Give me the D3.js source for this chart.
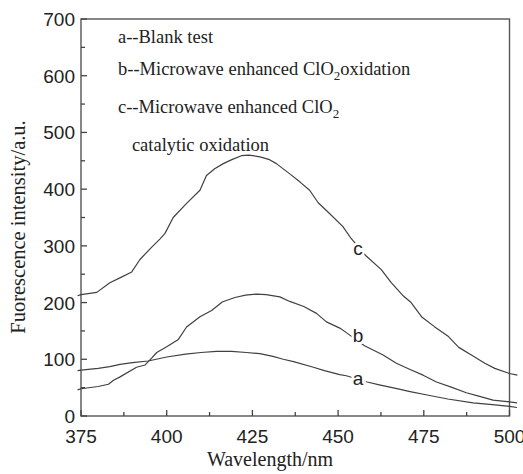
<!DOCTYPE html>
<html>
<head>
<meta charset="utf-8">
<script src="https://cdn.jsdelivr.net/npm/d3@7"></script>
<style>
  html, body { margin: 0; padding: 0; background: #fff; }
  svg { display: block; }
</style>
</head>
<body>
<svg id="chart" width="523" height="474"></svg>
<script>
// Fluorescence spectra of the three treatments
const waveA = [374, 375, 380, 383.4, 386.4, 390, 394.6, 400, 405.5, 410, 414.5, 418.9, 423.3, 427.2, 431, 434, 437, 442.8, 446, 450.5, 452.4, 458.5, 462, 466.5, 471, 476, 482, 489.4, 495, 500, 502.2];
const intA  = [80, 81, 84, 87, 91, 94, 97, 104, 109, 112, 114, 114, 112, 110, 105, 100, 96, 86, 80, 73, 71, 60, 55, 49, 43, 37, 30, 23, 20, 17, 15];

const waveB = [374, 375, 380, 383, 384.5, 386.4, 391.2, 393.7, 395.6, 397.1, 400, 403.4, 405.8, 409.7, 413.1, 416.2, 419.9, 423, 426.2, 429, 433, 435.9, 440, 443.7, 446.6, 450.5, 452.4, 457.7, 463, 467, 471, 474.8, 478.7, 483, 487.4, 491, 495.2, 500, 502.2];
const intB  = [46, 48, 52, 56, 63, 69, 86, 90, 102, 112, 122, 135, 157, 175, 186, 201, 209, 213, 215, 214, 210, 202, 193, 181, 166, 155, 147, 124, 108, 93, 82, 72, 60, 51, 41, 35, 28, 25, 23];

const waveC = [374, 375, 379.6, 383.4, 386.5, 389.8, 392.2, 395.5, 398, 399.5, 401.9, 405.8, 409.7, 411.6, 414, 416.5, 419, 421.8, 424, 427.2, 430, 432, 436.1, 439, 441.7, 444.2, 447.5, 451.4, 453.8, 458.2, 462.6, 465.5, 468.8, 471.3, 474.5, 478, 482.2, 485.2, 489, 492.8, 495.7, 500, 502.3];
const intC  = [212, 214, 218, 235, 244, 254, 276, 297, 312, 322, 350, 375, 398, 424, 436, 445, 452, 459, 460, 457, 452, 445, 426, 412, 398, 376, 357, 334, 313, 282, 258, 235, 213, 200, 174, 158, 140, 121, 107, 93, 84, 75, 72];

const curveLabels = ["a", "b", "c"];
const labelWave   = [455.8, 455.8, 455.8];
const labelValue  = [55, 131, 284];

const xTicks = [375, 400, 425, 450, 475, 500];
const yTicks = [0, 100, 200, 300, 400, 500, 600, 700];

const legendLines = [
  "a--Blank test",
  "b--Microwave enhanced ClO|2|oxidation",
  "c--Microwave enhanced ClO|2|",
  "   catalytic oxidation"
];

const svg = d3.select("#chart");
const m = { left: 81, right: 509.5, top: 19, bottom: 416 };

const x = d3.scaleLinear().domain([375, 500]).range([m.left, m.right]);
const y = d3.scaleLinear().domain([0, 700]).range([m.bottom, m.top]);

const sans = "'Liberation Sans', Arial, sans-serif";
const serif = "'Liberation Serif', 'Times New Roman', serif";

// frame
svg.append("rect")
  .attr("x", m.left).attr("y", m.top)
  .attr("width", m.right - m.left).attr("height", m.bottom - m.top)
  .attr("fill", "none").attr("stroke", "#555").attr("stroke-width", 1.4);

// bottom axis: inward ticks, minor every 12.5
const xMinor = d3.range(375, 500.1, 12.5);
svg.append("g").selectAll("line").data(xMinor).join("line")
  .attr("x1", d => x(d)).attr("x2", d => x(d))
  .attr("y1", m.bottom)
  .attr("y2", d => m.bottom - (xTicks.includes(d) ? 6 : 4))
  .attr("stroke", "#444").attr("stroke-width", 1.3);
svg.append("g").selectAll("text").data(xTicks).join("text")
  .attr("x", d => x(d)).attr("y", 443)
  .attr("text-anchor", "middle")
  .attr("font-family", sans).attr("font-size", 19).attr("fill", "#222")
  .text(d => d);

// left axis: inward ticks, minor every 50
const yMinor = d3.range(0, 700.1, 50);
svg.append("g").selectAll("line").data(yMinor).join("line")
  .attr("x1", m.left)
  .attr("x2", d => m.left + (yTicks.includes(d) ? 6 : 4))
  .attr("y1", d => y(d)).attr("y2", d => y(d))
  .attr("stroke", "#444").attr("stroke-width", 1.3);
svg.append("g").selectAll("text").data(yTicks).join("text")
  .attr("x", 75).attr("y", d => y(d) + 7)
  .attr("text-anchor", "end")
  .attr("font-family", sans).attr("font-size", 19).attr("fill", "#222")
  .text(d => d);

// axis titles
svg.append("text")
  .attr("x", 270).attr("y", 466)
  .attr("text-anchor", "middle")
  .attr("font-family", serif).attr("font-size", 20).attr("fill", "#222")
  .text("Wavelength/nm");
svg.append("text")
  .attr("transform", "translate(25,227) rotate(-90)")
  .attr("text-anchor", "middle")
  .attr("font-family", serif).attr("font-size", 20.5).attr("fill", "#222")
  .text("Fuorescence intensity/a.u.");

// spectra
const line = d3.line().x(d => x(d[0])).y(d => y(d[1])).curve(d3.curveLinear);
const series = [
  d3.zip(waveA, intA),
  d3.zip(waveB, intB),
  d3.zip(waveC, intC)
];
svg.append("g").selectAll("path").data(series).join("path")
  .attr("d", line)
  .attr("fill", "none").attr("stroke", "#404040").attr("stroke-width", 1.2)
  .attr("stroke-linejoin", "round");

// curve letters with a white halo that breaks the line around them
svg.append("g").selectAll("text").data(curveLabels).join("text")
  .attr("x", (d, i) => x(labelWave[i]))
  .attr("y", (d, i) => y(labelValue[i]))
  .attr("text-anchor", "middle")
  .attr("font-family", sans).attr("font-size", 19).attr("fill", "#222")
  .attr("stroke", "#fff").attr("stroke-width", 5).attr("paint-order", "stroke")
  .text(d => d);

// legend text, with ClO2 subscripts
const legendY = [43, 75, 113, 151];
const legendX = [118, 118, 118, 118];
legendLines.forEach((s, i) => {
  const t = svg.append("text")
    .attr("x", legendX[i]).attr("y", legendY[i])
    .attr("font-family", serif).attr("font-size", 18.5).attr("fill", "#222")
    .attr("xml:space", "preserve").style("white-space", "pre");
  s.split("|").forEach((part, k) => {
    if (!part) return;
    const sub = k % 2 === 1;
    t.append("tspan")
      .attr("font-size", sub ? 13 : 18.5)
      .attr("dy", sub ? 5 : (k > 0 ? -5 : 0))
      .text(part);
  });
});
</script>
</body>
</html>
